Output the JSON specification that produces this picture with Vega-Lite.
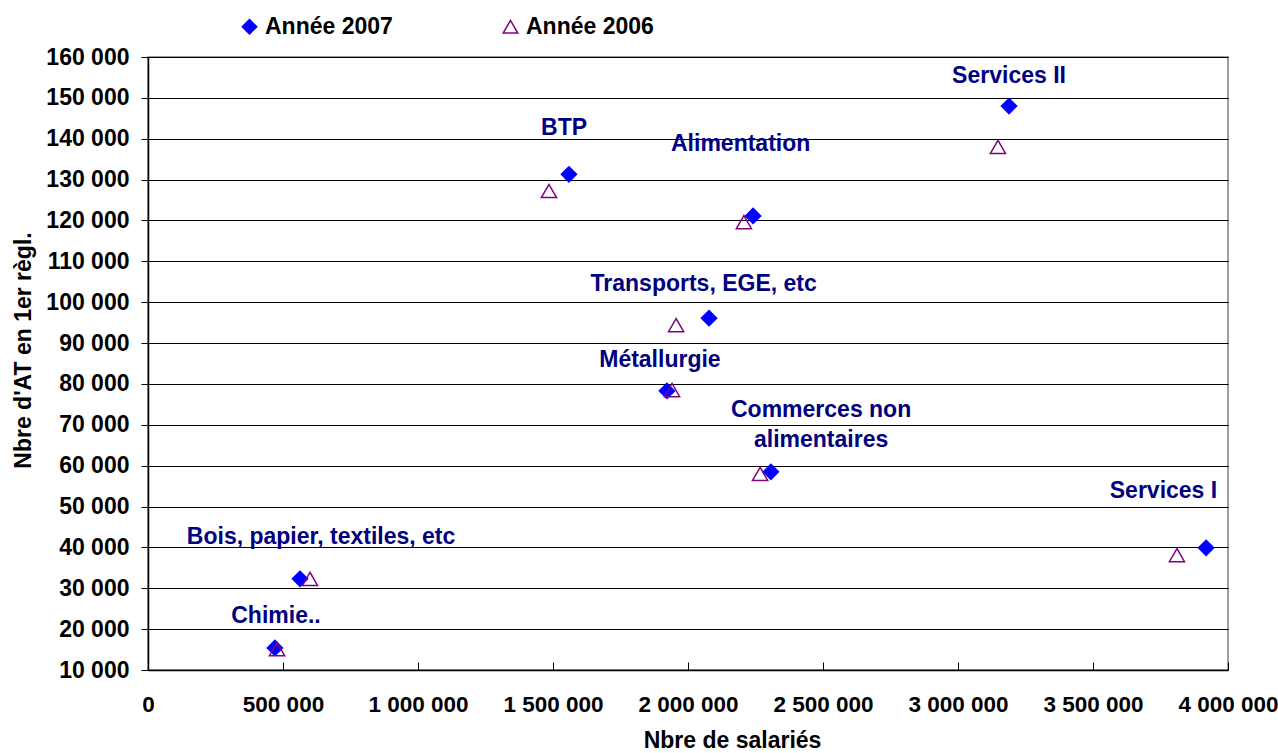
{
  "$schema": "https://vega.github.io/schema/vega-lite/v6.json",
  "width": 1080,
  "height": 613,
  "autosize": {"type": "none"},
  "padding": {"left": 148, "top": 57, "right": 50, "bottom": 83},
  "config": {
    "locale": {"number": {"decimal": ",", "thousands": " ", "grouping": [3], "currency": ["", " €"]}},
    "font": "Liberation Sans",
    "view": {"stroke": "#808080", "strokeWidth": 1.5}
  },
  "datasets": {
    "points": [
      {"secteur": "Chimie..", "annee": "Année 2007", "salaries": 470000, "at": 15400},
      {"secteur": "Bois, papier, textiles, etc", "annee": "Année 2007", "salaries": 563000, "at": 32300},
      {"secteur": "BTP", "annee": "Année 2007", "salaries": 1559000, "at": 131300},
      {"secteur": "Alimentation", "annee": "Année 2007", "salaries": 2241000, "at": 121100},
      {"secteur": "Transports, EGE, etc", "annee": "Année 2007", "salaries": 2078000, "at": 96100},
      {"secteur": "Métallurgie", "annee": "Année 2007", "salaries": 1922000, "at": 78300},
      {"secteur": "Commerces non alimentaires", "annee": "Année 2007", "salaries": 2307000, "at": 58500},
      {"secteur": "Services II", "annee": "Année 2007", "salaries": 3189000, "at": 148000},
      {"secteur": "Services I", "annee": "Année 2007", "salaries": 3919000, "at": 39900},
      {"secteur": "Chimie..", "annee": "Année 2006", "salaries": 478000, "at": 15100},
      {"secteur": "Bois, papier, textiles, etc", "annee": "Année 2006", "salaries": 600000, "at": 32300},
      {"secteur": "BTP", "annee": "Année 2006", "salaries": 1485000, "at": 127200},
      {"secteur": "Alimentation", "annee": "Année 2006", "salaries": 2207000, "at": 119600},
      {"secteur": "Transports, EGE, etc", "annee": "Année 2006", "salaries": 1956000, "at": 94400},
      {"secteur": "Métallurgie", "annee": "Année 2006", "salaries": 1941000, "at": 78500},
      {"secteur": "Commerces non alimentaires", "annee": "Année 2006", "salaries": 2267000, "at": 58000},
      {"secteur": "Services II", "annee": "Année 2006", "salaries": 3148000, "at": 138000},
      {"secteur": "Services I", "annee": "Année 2006", "salaries": 3811000, "at": 38100}
    ],
    "labels": [
      {"label": "BTP", "x": 1541000, "y": 142600},
      {"label": "Alimentation", "x": 2195000, "y": 138700},
      {"label": "Services II", "x": 3189000, "y": 155300},
      {"label": "Transports, EGE, etc", "x": 2058000, "y": 104400},
      {"label": "Métallurgie", "x": 1896000, "y": 85850},
      {"label": "Commerces non", "x": 2493000, "y": 73600},
      {"label": "alimentaires", "x": 2493000, "y": 66300},
      {"label": "Services I", "x": 3761000, "y": 53800},
      {"label": "Bois, papier, textiles, etc", "x": 641000, "y": 42540},
      {"label": "Chimie..", "x": 474000, "y": 23200}
    ]
  },
  "layer": [
    {
      "data": {"name": "points"},
      "mark": {"type": "point", "strokeWidth": 1.5, "opacity": 1, "size": 230},
      "encoding": {
        "x": {
          "field": "salaries", "type": "quantitative",
          "scale": {"domain": [0, 4000000], "nice": false, "zero": false},
          "axis": {
            "values": [0, 500000, 1000000, 1500000, 2000000, 2500000, 3000000, 3500000, 4000000],
            "format": ",d", "grid": false,
            "domainColor": "#000", "domainWidth": 1.5, "tickColor": "#000", "tickSize": -8,
            "labelFontSize": 22.5, "labelFontWeight": "bold", "labelColor": "#000", "labelPadding": 31,
            "labelFlush": false, "labelOverlap": false,
            "title": "Nbre de salariés", "titleFontSize": 23, "titleFontWeight": "bold", "titleColor": "#000",
            "titleX": 584, "titleY": 77, "titleBaseline": "alphabetic", "titleAlign": "center", "titleAnchor": "start"
          }
        },
        "y": {
          "field": "at", "type": "quantitative",
          "scale": {"domain": [10000, 160000], "nice": false, "zero": false},
          "axis": {
            "values": [10000, 20000, 30000, 40000, 50000, 60000, 70000, 80000, 90000, 100000, 110000, 120000, 130000, 140000, 150000, 160000],
            "format": ",d", "grid": true, "gridColor": "#000", "gridOpacity": 1, "gridWidth": 1.2,
            "domainColor": "#000", "domainWidth": 1.5, "tickColor": "#000", "tickSize": 7,
            "labelFontSize": 23, "labelFontWeight": "bold", "labelColor": "#000", "labelPadding": 12,
            "labelOverlap": false, "labelFlush": false,
            "title": "Nbre d'AT en 1er règl.", "titleFontSize": 23, "titleFontWeight": "bold", "titleColor": "#000",
            "titleX": -125, "titleY": 293, "titleBaseline": "middle", "titleAlign": "center", "titleAngle": -90, "titleAnchor": "start"
          }
        },
        "shape": {
          "field": "annee", "type": "nominal",
          "scale": {"domain": ["Année 2007", "Année 2006"], "range": ["diamond", "triangle-up"]},
          "legend": {
            "orient": "none", "legendX": 90, "legendY": -42, "direction": "horizontal", "title": null,
            "labelFont": "Liberation Sans", "labelFontWeight": "bold", "labelFontSize": 23,
            "symbolSize": 210, "symbolStrokeWidth": 1.5, "columnPadding": 106, "labelOffset": 4,
            "encode": {"labels": {"update": {"fill": {"signal": "datum.value === 'Année 2007' ? '#0000FF' : '#800080'"}}}}
          }
        },
        "fill": {
          "field": "annee", "type": "nominal",
          "scale": {"domain": ["Année 2007", "Année 2006"], "range": ["#0000FF", "transparent"]}
        },
        "stroke": {
          "field": "annee", "type": "nominal",
          "scale": {"domain": ["Année 2007", "Année 2006"], "range": ["#0000FF", "#800080"]}
        }
      }
    },
    {
      "data": {"name": "labels"},
      "mark": {"type": "text", "font": "Liberation Sans", "fontWeight": "bold", "fontSize": 23, "color": "#000080", "align": "center", "baseline": "middle"},
      "encoding": {
        "x": {"field": "x", "type": "quantitative"},
        "y": {"field": "y", "type": "quantitative"},
        "text": {"field": "label"}
      }
    }
  ]
}
